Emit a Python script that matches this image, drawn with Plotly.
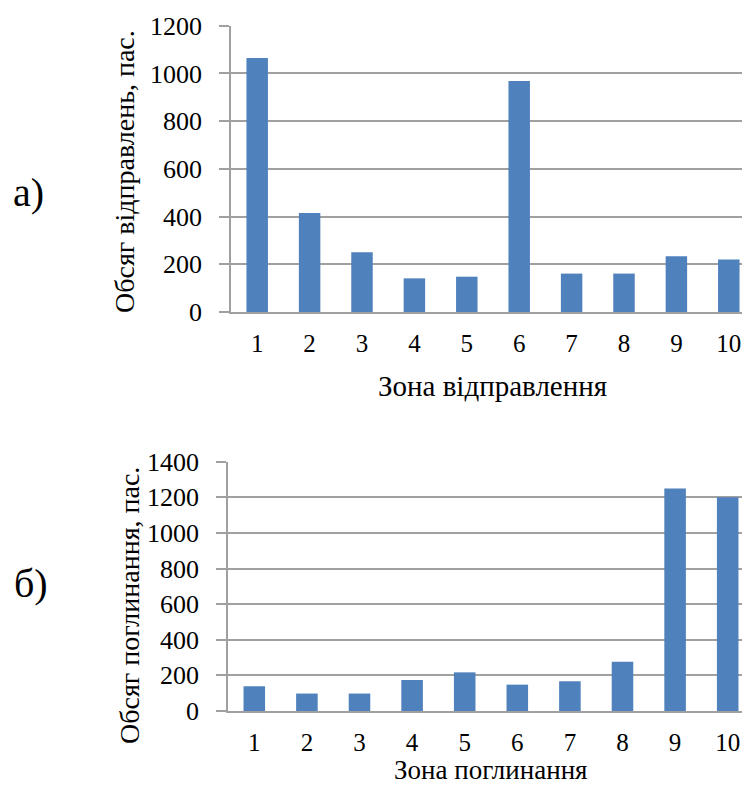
import plotly.graph_objects as go

zones = [1, 2, 3, 4, 5, 6, 7, 8, 9, 10]
tick_labels = ["1", "2", "3", "4", "5", "6", "7", "8", "9", "10"]
sent = [1065, 415, 250, 141, 148, 968, 161, 161, 234, 220]
absorbed = [139, 98, 98, 174, 217, 148, 167, 277, 1250, 1200]

label_top = "а)"
label_bottom = "б)"
ytitle_top = "Обсяг відправлень, пас."
xtitle_top = "Зона відправлення"
ytitle_bottom = "Обсяг поглинання, пас."
xtitle_bottom = "Зона поглинання"

# page body has an 8px margin on every side; keep the figure inside the window
OFF = 8
W, H = 750 - 2 * OFF, 792 - 2 * OFF
RIGHT = OFF + W
FONT = "Liberation Serif, Times New Roman, serif"
BAR = "#4F81BD"
GRID = "#a0a0a0"

def px(x):
    return (x - OFF) / W

def py(y):
    return 1 - (y - OFF) / H

fig = go.Figure()
fig.add_trace(go.Bar(x=zones, y=sent, marker=dict(color=BAR, line=dict(width=0)),
                     xaxis="x", yaxis="y", showlegend=False, hoverinfo="x+y"))
fig.add_trace(go.Bar(x=zones, y=absorbed, marker=dict(color=BAR, line=dict(width=0)),
                     xaxis="x2", yaxis="y2", showlegend=False, hoverinfo="x+y"))

common_x = dict(tickmode="array", tickvals=zones, ticktext=tick_labels,
                showgrid=False, zeroline=False, showline=True, linecolor=GRID, linewidth=1.5,
                ticks="", tickfont=dict(family=FONT, size=25, color="black"),
                ticklabelstandoff=8, ticklabeloverflow="allow",
                fixedrange=True, automargin=False)
common_y = dict(dtick=200, showgrid=True, gridcolor=GRID, gridwidth=1.5, zeroline=False,
                showline=True, linecolor=GRID, linewidth=1.5,
                ticks="outside", ticklen=10, tickcolor=GRID, tickwidth=1.5,
                tickfont=dict(family=FONT, size=26, color="black"),
                ticklabelstandoff=12, fixedrange=True, automargin=False)

def ann(text, x, y, size, angle=0):
    return dict(text=text, x=px(x), y=py(y), xref="paper", yref="paper", showarrow=False,
                xanchor="center", yanchor="middle", textangle=angle,
                font=dict(family=FONT, size=size, color="black"))

fig.update_layout(
    width=W, height=H,
    margin=dict(l=0, r=0, t=0, b=0, pad=0),
    paper_bgcolor="white", plot_bgcolor="white",
    bargap=0.59,
    font=dict(family=FONT, color="black"),
    xaxis=dict(domain=[px(231), 1], range=[0.5, 0.5 + (RIGHT - 231) / 52.4], anchor="y", **common_x),
    yaxis=dict(domain=[py(312), py(25.7)], range=[0, 1200], anchor="x", **common_y),
    xaxis2=dict(domain=[px(228), 1], range=[0.5, 0.5 + (RIGHT - 228) / 52.6], anchor="y2", **common_x),
    yaxis2=dict(domain=[py(711), py(461.7)], range=[0, 1400], anchor="x2", **common_y),
    annotations=[
        ann(label_top, 28, 192, 40),
        ann(label_bottom, 31, 583, 40),
        ann(ytitle_top, 124, 172, 28, -90),
        ann(xtitle_top, 492, 386, 29),
        ann(ytitle_bottom, 129, 606, 28, -90),
        ann(xtitle_bottom, 491, 770, 27),
    ],
)

fig.write_html("out.html")
